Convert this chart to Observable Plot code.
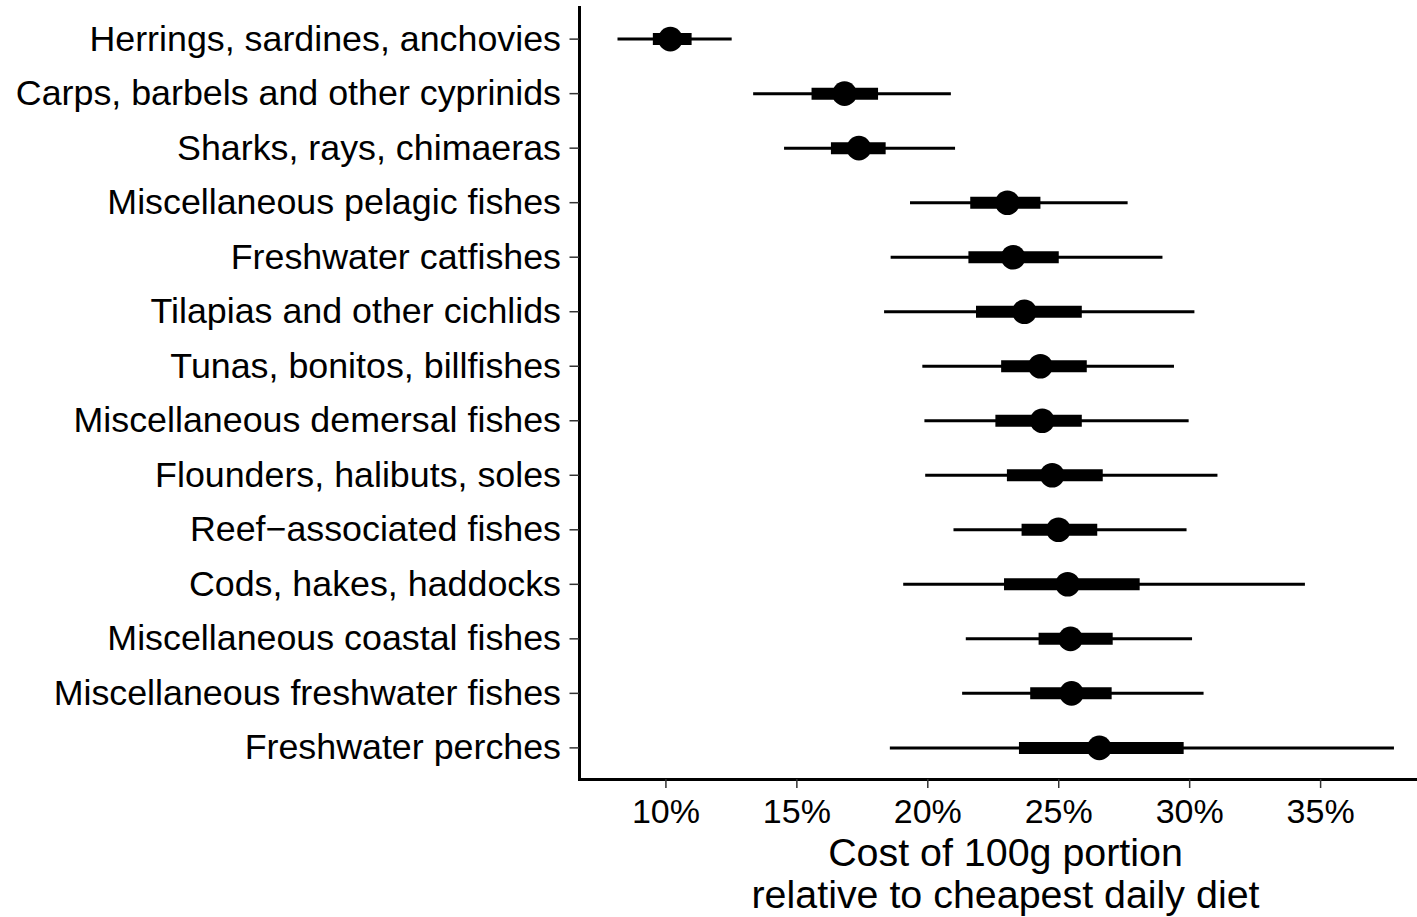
<!DOCTYPE html>
<html>
<head>
<meta charset="utf-8">
<script src="https://cdn.jsdelivr.net/npm/d3@7"></script>
<script src="https://cdn.jsdelivr.net/npm/@observablehq/plot@0.6"></script>
<style>
  html, body { margin: 0; padding: 0; background: white; }
  #chart svg { display: block; }
</style>
</head>
<body>
<div id="chart"></div>
<script>
const categories = [
  "Herrings, sardines, anchovies",
  "Carps, barbels and other cyprinids",
  "Sharks, rays, chimaeras",
  "Miscellaneous pelagic fishes",
  "Freshwater catfishes",
  "Tilapias and other cichlids",
  "Tunas, bonitos, billfishes",
  "Miscellaneous demersal fishes",
  "Flounders, halibuts, soles",
  "Reef\u2212associated fishes",
  "Cods, hakes, haddocks",
  "Miscellaneous coastal fishes",
  "Miscellaneous freshwater fishes",
  "Freshwater perches"
];
const median = [10.17, 16.82, 17.37, 23.04, 23.26, 23.69, 24.30, 24.37, 24.75, 24.99, 25.34, 25.45, 25.49, 26.55];
const lo50   = [9.52, 15.58, 16.32, 21.64, 21.57, 21.86, 22.82, 22.60, 23.04, 23.60, 22.93, 24.25, 23.93, 23.50];
const hi50   = [11.00, 18.12, 18.41, 24.32, 25.02, 25.90, 26.09, 25.90, 26.70, 26.49, 28.11, 27.08, 27.04, 29.79];
const lo95   = [8.17, 13.35, 14.53, 19.34, 18.60, 18.35, 19.81, 19.89, 19.92, 21.00, 19.08, 21.47, 21.33, 18.57];
const hi95   = [12.53, 20.90, 21.06, 27.65, 28.98, 30.20, 29.42, 29.98, 31.08, 29.90, 34.42, 30.11, 30.55, 37.82];
const xTicks = [10, 15, 20, 25, 30, 35];
const xTitle = ["Cost of 100g portion", "relative to cheapest daily diet"];

const data = categories.map((name, i) => ({
  name, median: median[i], lo50: lo50[i], hi50: hi50[i], lo95: lo95[i], hi95: hi95[i]
}));

const chart = Plot.plot({
  width: 1417,
  height: 917,
  marginLeft: 579,
  marginRight: 0,
  marginTop: 7,
  marginBottom: 138,
  style: { fontFamily: "'Liberation Sans', Arial, sans-serif", background: "white", color: "black" },
  x: { domain: [6.7, 38.7] },
  y: { type: "point", domain: categories, padding: 0.58, round: false },
  marks: [
    Plot.ruleY(data, { y: "name", x1: "lo95", x2: "hi95", stroke: "black", strokeWidth: 3 }),
    Plot.ruleY(data, { y: "name", x1: "lo50", x2: "hi50", stroke: "black", strokeWidth: 12 }),
    Plot.dot(data, { y: "name", x: "median", r: 12.3, fill: "black", stroke: "none" }),
    Plot.frame({ anchor: "left", stroke: "black", strokeWidth: 3 }),
    Plot.frame({ anchor: "bottom", stroke: "black", strokeWidth: 3 }),
    Plot.axisY({ tickSize: 9.5, tickPadding: 9, fontSize: 35.8, stroke: "#333", strokeWidth: 1.5, fill: "black", label: null }),
    Plot.axisX({ ticks: xTicks, tickFormat: d => d + "%", tickSize: 9, tickPadding: 10, fontSize: 34, stroke: "#333", strokeWidth: 1.5, fill: "black", label: null }),
    Plot.text([xTitle.join("\n")], { text: d => d, frameAnchor: "bottom", lineAnchor: "top", dy: 57, dx: 7, fontSize: 39.4, lineHeight: 1.065, fill: "black" })
  ]
});
document.getElementById("chart").appendChild(chart);
</script>
</body>
</html>
